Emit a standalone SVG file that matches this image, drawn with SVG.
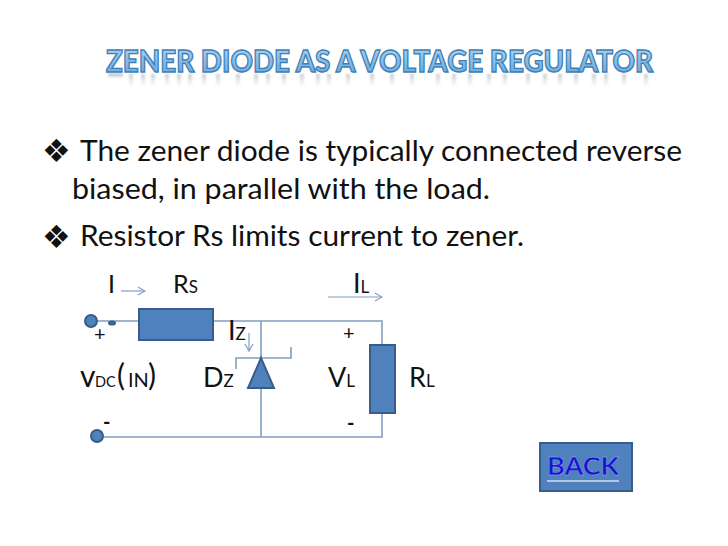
<svg xmlns="http://www.w3.org/2000/svg" width="728" height="546" viewBox="0 0 728 546">
<style>
text{font-family:"Lato","Open Sans","Liberation Sans",sans-serif;fill:#111}
.body{font-size:29px}
.bul{font-family:"DejaVu Sans",sans-serif;font-size:32px;fill:#111}
.lab{font-size:25px}
.big{font-size:27px}
.sub{font-size:17px}
.sign{font-size:20px}
.title{font-size:31px;font-weight:900;fill:url(#tg);stroke:#3f7fb5;stroke-width:1.4px}
.wire{fill:none;stroke:#7f9fc4;stroke-width:1.6}
.arr{fill:none;stroke:#7f9fc4;stroke-width:1.2;marker-end:url(#ah)}
.part{fill:#4f81bd;stroke:#385d8a;stroke-width:2}
.refl{fill:none;stroke:url(#rg);stroke-width:4;filter:url(#bl)}
</style>
<defs>
<linearGradient id="tg" x1="0" y1="0" x2="0" y2="1"><stop offset="0" stop-color="#b4daf5"/><stop offset="1" stop-color="#5fa3dc"/></linearGradient>
<linearGradient id="rg" gradientUnits="userSpaceOnUse" x1="0" y1="73" x2="0" y2="86"><stop offset="0" stop-color="#8f9aa5" stop-opacity=".55"/><stop offset="1" stop-color="#8f9aa5" stop-opacity="0"/></linearGradient>
<filter id="bl" x="-5%" y="-30%" width="110%" height="160%"><feGaussianBlur stdDeviation="1"/></filter>
<marker id="ah" markerWidth="9" markerHeight="10" refX="8" refY="5" orient="auto" markerUnits="userSpaceOnUse"><path d="M1 1L8 5L1 9" fill="none" stroke="#7f9fc4" stroke-width="1.2"/></marker>
</defs>
<rect width="728" height="546" fill="#fff"/>
<g id="title">
<path class="refl" d="M108 75H123M131 74V86M143 74V86M153 74V86M167 74V86M179 74V86M190 74V86M204 74V86M218 74V86M238 74V86M256 74V86M268 74V86M284 74V86M302 74V86M318 74V86M329 74V86M348 74V86M372 74V86M392 74V86M412 74V86M438 74V86M454 74V86M470 74V86M489 74V86M505 74V86M528 74V86M545 74V86M560 74V86M576 74V86M594 74V86M606 74V86M624 74V86M646 74V86"/>
<text class="title" x="106" y="72" textLength="547" lengthAdjust="spacingAndGlyphs">ZENER DIODE AS A VOLTAGE REGULATOR</text>
</g>
<g id="bullets">
<text class="bul" x="42" y="162">❖</text>
<text class="body" x="80" y="161" textLength="602" lengthAdjust="spacingAndGlyphs">The zener diode is typically connected reverse</text>
<text class="body" x="72" y="199" textLength="418" lengthAdjust="spacingAndGlyphs">biased, in parallel with the load.</text>
<text class="bul" x="42" y="248">❖</text>
<text class="body" x="80" y="246" textLength="444" lengthAdjust="spacingAndGlyphs">Resistor Rs limits current to zener.</text>
</g>
<g id="connectors">
<path class="wire" d="M91 321H139M213 321H382V345M382 413V437H97M261 321V437"/>
<path class="wire" d="M236 369V358H291V347"/>
<path class="arr" d="M121 291H145"/>
<path class="arr" d="M328 297H382"/>
<path class="arr" d="M249 333V351"/>
</g>
<g id="source-plus"><circle class="part" cx="91" cy="321" r="6"/><ellipse class="part" cx="112" cy="323" rx="3" ry="1.6"/></g>
<g id="source-minus"><circle class="part" cx="97" cy="436" r="6"/></g>
<g id="rs"><rect class="part" x="139" y="309" width="74" height="31"/></g>
<g id="rl"><rect class="part" x="370" y="345" width="25" height="68"/></g>
<g id="dz"><path class="part" d="M261 358L274 388H248Z"/></g>
<g id="labels">
<text class="lab" x="108" y="293">I</text>
<text class="lab" x="173" y="293">R<tspan class="sub">S</tspan></text>
<text class="big" x="353" y="293">I<tspan class="sub">L</tspan></text>
<text class="big" x="228" y="340">I<tspan class="sub">Z</tspan></text>
<text class="sign" x="94" y="341">+</text>
<text class="sign" x="343" y="340">+</text>
<text x="80" y="387" style="font-size:30px">v</text>
<text x="95" y="387" style="font-size:14.5px">DC</text>
<text x="117" y="386" style="font-size:30px">(</text>
<text x="128" y="387" style="font-size:20px">IN</text>
<text x="148" y="386" style="font-size:30px">)</text>
<text class="big" x="203" y="387">D<tspan class="sub">Z</tspan></text>
<text class="big" x="328" y="387">V<tspan class="sub">L</tspan></text>
<text class="big" x="409" y="387">R<tspan class="sub">L</tspan></text>
<text class="sign" x="103" y="429" style="font-weight:700">-</text>
<text class="sign" x="347" y="430" style="font-weight:700">-</text>
</g>
<g id="back">
<rect class="part" x="540" y="443" width="92" height="48"/>
<text x="547" y="475" textLength="72" lengthAdjust="spacingAndGlyphs" style="font-size:25px;font-weight:700;fill:#1414d2;stroke:#a9b7e8;stroke-width:.4">BACK</text>
<path d="M547 481H619" stroke="#d5def5" stroke-width="1.6"/>
</g>
</svg>
